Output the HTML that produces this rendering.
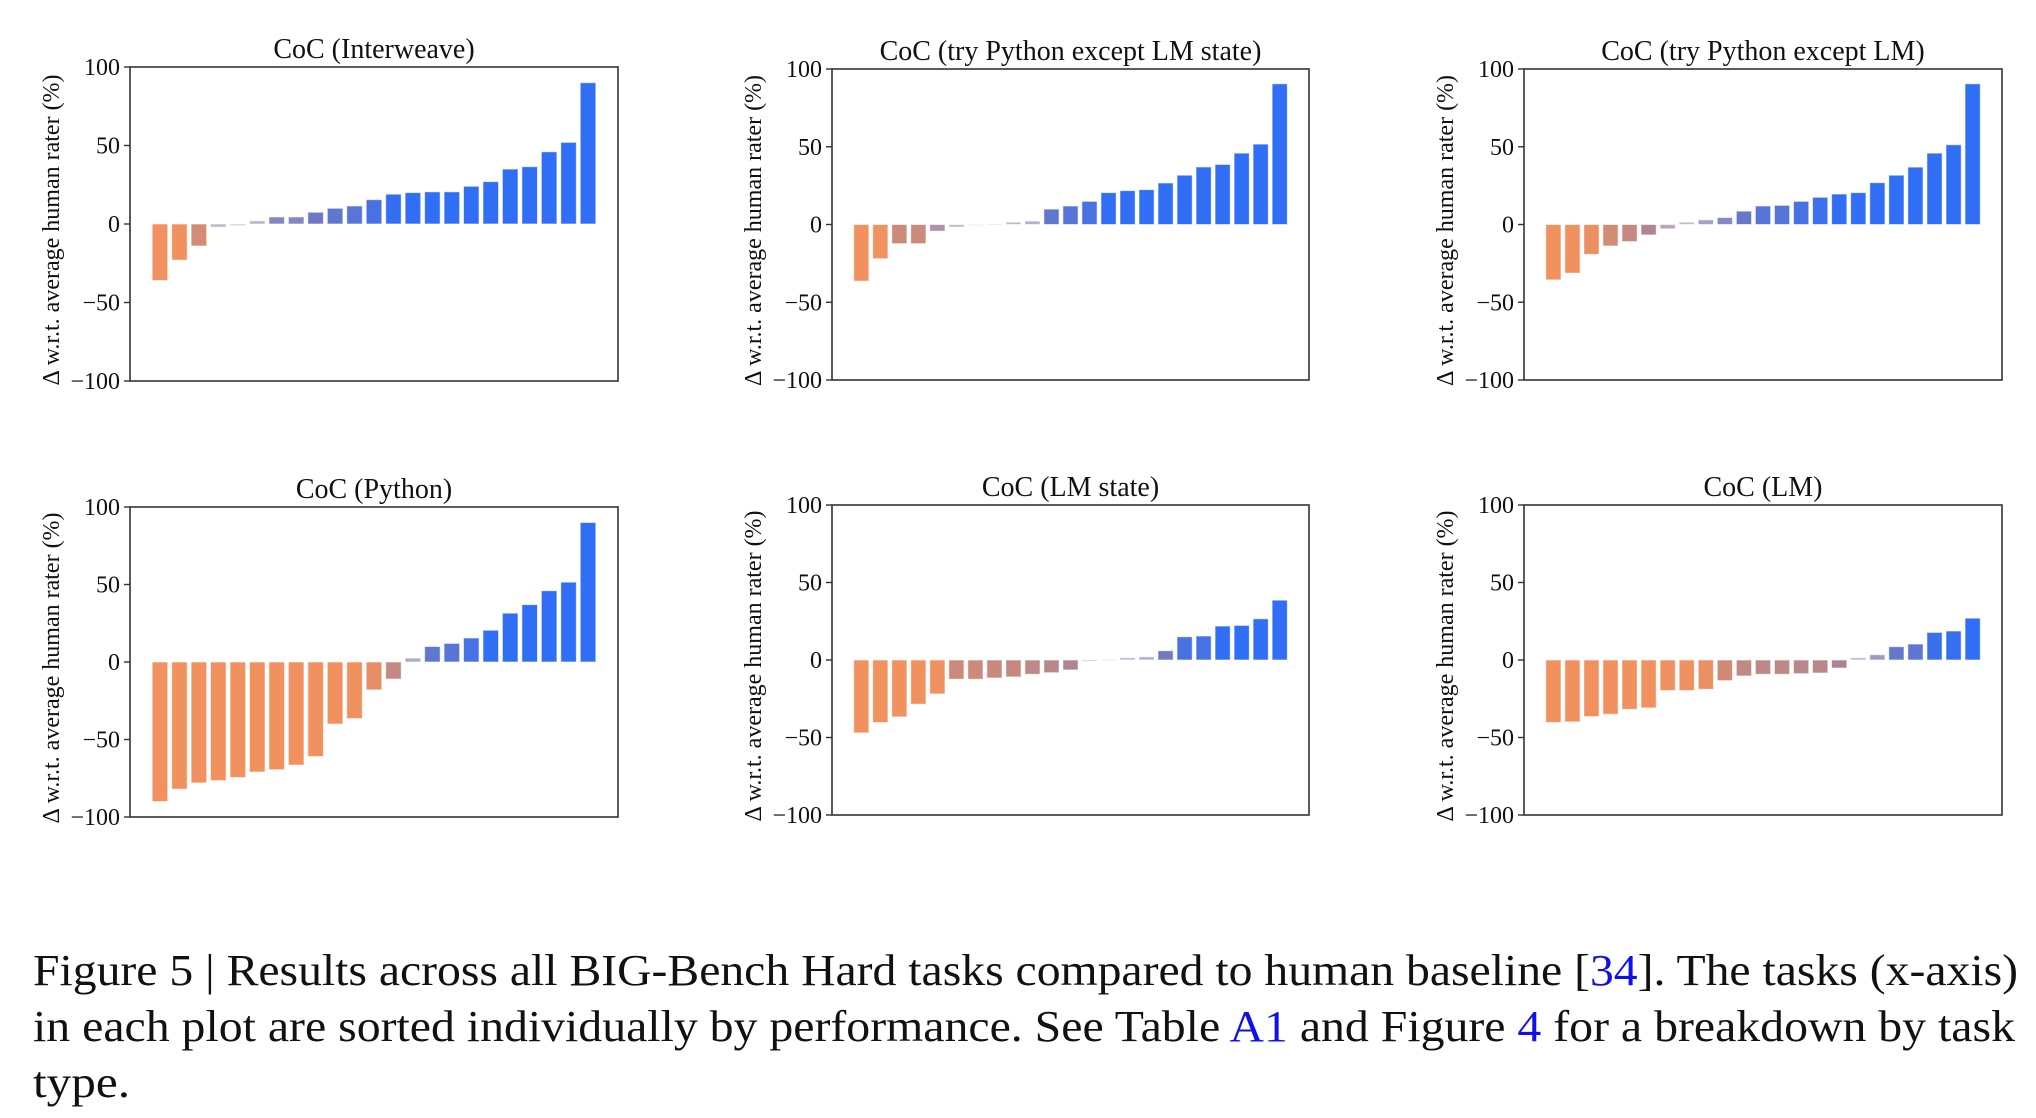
<!DOCTYPE html>
<html><head><meta charset="utf-8"><style>
html,body{margin:0;padding:0;background:#fff;}
svg{display:block;}
text{font-family:"Liberation Serif",serif;fill:#111;}
.cap{font-family:"Liberation Serif","DejaVu Serif",serif;font-size:44px;fill:#111;}
</style></head><body>
<svg id="fig" width="2036" height="1118" viewBox="0 0 2036 1118" xmlns="http://www.w3.org/2000/svg">
<g id="panels"></g>
<g>
<text class="cap" x="33" y="985" textLength="1985" lengthAdjust="spacingAndGlyphs">Figure 5 | Results across all BIG-Bench Hard tasks compared to human baseline [<tspan fill="#1010ee">34</tspan>]. The tasks (x-axis)</text>
<text class="cap" x="33" y="1041" textLength="1982" lengthAdjust="spacingAndGlyphs">in each plot are sorted individually by performance. See Table <tspan fill="#1010ee">A1</tspan> and Figure <tspan fill="#1010ee">4</tspan> for a breakdown by task</text>
<text class="cap" x="33" y="1097" textLength="97" lengthAdjust="spacingAndGlyphs">type.</text>
</g>
</svg>
<script>
const panelTitles = ["CoC (Interweave)", "CoC (try Python except LM state)", "CoC (try Python except LM)", "CoC (Python)", "CoC (LM state)", "CoC (LM)"];
const interweaveValues = [-36,-23,-14,-2,-1,2,4.5,4.5,7.5,10,11.5,15.5,19,20,20.5,20.5,24,27,35,36.5,46,52,90];
const tryPyLmStateValues = [-36.4,-22,-12.3,-12.3,-4.3,-1.7,-0.6,0.4,1.5,2.2,9.9,11.9,14.9,20.5,21.8,22.4,26.7,31.7,37,38.6,45.9,51.7,90.5];
const tryPyLmValues = [-35.6,-31.3,-19.2,-13.8,-11,-6.7,-2.8,1.5,3,4.5,8.6,11.9,12.3,14.9,17.5,19.6,20.5,26.9,31.7,36.9,45.9,51.3,90.5];
const pythonValues = [-90,-82,-78,-76.5,-74.5,-71,-69.5,-66.5,-61,-40,-36.5,-18,-11,2.5,10,12,15.5,20.5,31.5,37,46,51.5,90];
const lmStateValues = [-47,-40.3,-36.7,-28.5,-21.9,-12.4,-12.4,-11.6,-10.9,-9.2,-8.2,-6.4,-0.9,0.4,1.5,2.1,6,15,15.5,21.9,22.3,26.6,38.6];
const lmValues = [-40.3,-39.9,-36.5,-35,-31.8,-30.9,-19.7,-19.7,-18.9,-13.3,-10.3,-9.2,-9.2,-8.8,-8.4,-5.2,1.5,3.4,8.6,10.3,17.8,18.7,27];
const yTickValues = [100, 50, 0, -50, -100];
const yTickLabels = ["100", "50", "0", "\u221250", "\u2212100"];
const yLabelText = "\u0394 w.r.t. average human rater (%)";

const seriesList = [interweaveValues, tryPyLmStateValues, tryPyLmValues, pythonValues, lmStateValues, lmValues];
const frames = [
  {x0:130,x1:618,y0:67,y1:381},{x0:832,x1:1309,y0:69,y1:380},{x0:1524,x1:2002,y0:69,y1:380},
  {x0:130,x1:618,y0:507,y1:817},{x0:832,x1:1309,y0:505,y1:815},{x0:1524,x1:2002,y0:505,y1:815}
];
const NS = "http://www.w3.org/2000/svg";
const root = document.getElementById('panels');
function mk(tag, attrs, parent){const e=document.createElementNS(NS,tag);for(const k in attrs)e.setAttribute(k,attrs[k]);parent.appendChild(e);return e;}
function barColor(v){
  const t=Math.max(0,Math.min(1,(v+20)/40));
  const a=[240,145,95], b=[48,110,245];
  const c=a.map((x,i)=>Math.round(x+(b[i]-x)*t));
  return 'rgb('+c.join(',')+')';
}
seriesList.forEach((vals,p)=>{
  const f=frames[p];
  const g=mk('g',{},root);
  
  
  const n=vals.length;
  const xmin=-0.4-0.05*(n-1+0.8), xmax=(n-1)+0.4+0.05*(n-1+0.8);
  const xs=v=>f.x0+(v-xmin)/(xmax-xmin)*(f.x1-f.x0);
  const ys=v=>f.y0+(100-v)/200*(f.y1-f.y0);
  vals.forEach((v,i)=>{
    const xl=xs(i-0.4), xr=xs(i+0.4);
    const ya=ys(Math.max(v,0)), yb=ys(Math.min(v,0));
    const r=mk('rect',{x:xl,y:ya,width:xr-xl,height:Math.max(yb-ya,1),fill:barColor(v),'fill-opacity':Math.min(1,0.35+Math.abs(v)/8),stroke:'#fff','stroke-opacity':0.6,'stroke-width':1},g);
    
    
  });
  const fr=mk('rect',{x:f.x0,y:f.y0,width:f.x1-f.x0,height:f.y1-f.y0,fill:'none',stroke:'#333','stroke-width':1.6},g);
  
  
  yTickValues.forEach((tv,k)=>{
    const y=ys(tv);
    const tk=mk('line',{x1:f.x0-6,x2:f.x0,y1:y,y2:y,stroke:'#333','stroke-width':1.4},g);
    
    
    const tl=mk('text',{x:f.x0-10,y:y+8,'text-anchor':'end','font-size':24},g);
    tl.textContent=yTickLabels[k];
    
    
  });
  const cy=(f.y0+f.y1)/2;
  const yl=mk('text',{x:0,y:0,'text-anchor':'middle','font-size':24,transform:'translate('+(f.x0-71)+','+(cy+6)+') rotate(-90)'},g);
  yl.textContent=yLabelText;
  
  
  const tt=mk('text',{x:(f.x0+f.x1)/2,y:f.y0-9,'text-anchor':'middle','font-size':28},g);
  tt.textContent=panelTitles[p];
  
  
});
</script>
</body></html>
